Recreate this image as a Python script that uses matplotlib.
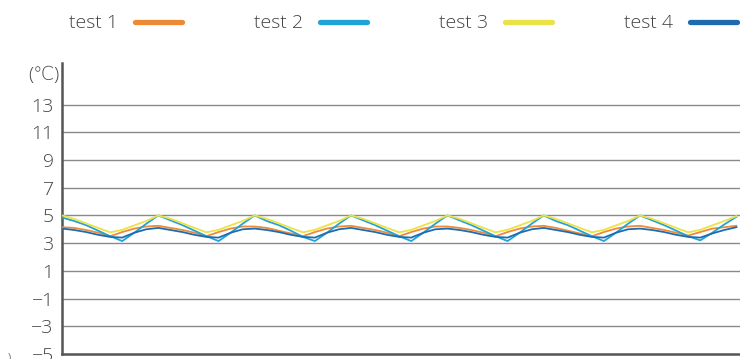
import matplotlib
matplotlib.use('Agg')
import matplotlib.pyplot as plt
from matplotlib.lines import Line2D
import numpy as np

plt.rcParams['font.family'] = ['Open Sans', 'DejaVu Sans']

# temperature readings, one sample per step
test1 = [4.15, 4.1, 3.95, 3.75, 3.5, 3.8, 4.05, 4.2,
         4.25, 4.1, 3.95, 3.75, 3.5, 3.8, 4.05, 4.2,
         4.2, 4.1, 3.9, 3.7, 3.5, 3.8, 4.05, 4.2,
         4.25, 4.1, 3.95, 3.75, 3.5, 3.8, 4.05, 4.2,
         4.2, 4.1, 3.95, 3.75, 3.5, 3.8, 4.05, 4.2,
         4.25, 4.1, 3.9, 3.7, 3.5, 3.8, 4.05, 4.2,
         4.25, 4.1, 3.95, 3.75, 3.55, 3.8, 4.05, 4.15, 4.25]
test2 = [4.85, 4.6, 4.3, 3.9, 3.5, 3.15, 3.75, 4.4,
         5.0, 4.65, 4.3, 3.9, 3.5, 3.15, 3.75, 4.4,
         5.0, 4.6, 4.3, 3.9, 3.45, 3.15, 3.75, 4.4,
         5.0, 4.65, 4.3, 3.9, 3.5, 3.15, 3.75, 4.4,
         5.0, 4.65, 4.3, 3.9, 3.5, 3.15, 3.75, 4.4,
         5.0, 4.6, 4.3, 3.9, 3.5, 3.15, 3.75, 4.4,
         5.0, 4.65, 4.3, 3.9, 3.5, 3.2, 3.75, 4.35, 4.9]
test3 = [5.0, 4.75, 4.43, 4.1, 3.78, 3.96, 4.28, 4.6,
         5.0, 4.76, 4.43, 4.1, 3.78, 3.96, 4.28, 4.6,
         5.0, 4.76, 4.43, 4.1, 3.78, 3.96, 4.28, 4.6,
         5.0, 4.76, 4.43, 4.1, 3.78, 3.96, 4.28, 4.6,
         5.0, 4.76, 4.43, 4.1, 3.78, 3.96, 4.28, 4.6,
         5.0, 4.76, 4.43, 4.1, 3.78, 3.96, 4.28, 4.6,
         5.0, 4.76, 4.43, 4.1, 3.78, 3.96, 4.28, 4.6, 4.95]
test4 = [4.05, 3.95, 3.8, 3.6, 3.45, 3.4, 3.75, 4.0,
         4.1, 3.95, 3.8, 3.6, 3.45, 3.4, 3.75, 4.0,
         4.05, 3.95, 3.8, 3.6, 3.45, 3.4, 3.75, 4.0,
         4.1, 3.95, 3.8, 3.6, 3.45, 3.4, 3.75, 4.0,
         4.05, 3.95, 3.8, 3.6, 3.45, 3.4, 3.75, 4.0,
         4.1, 3.95, 3.8, 3.6, 3.45, 3.4, 3.75, 4.0,
         4.05, 3.95, 3.8, 3.6, 3.45, 3.4, 3.7, 3.95, 4.15]
names = ['test 1', 'test 2', 'test 3', 'test 4']
colors = ['#ee8a35', '#22a3d8', '#ebe246', '#1d6cb0']
yticks = [-5, -3, -1, 1, 3, 5, 7, 9, 11, 13]

W, H = 740, 359
fig = plt.figure(figsize=(W / 100, H / 100), dpi=100)
ax = fig.add_axes([62 / W, 5 / H, (W - 62) / W, 291 / H])

x = np.arange(len(test1))
for series, c in zip([test1, test2, test3, test4], colors):
    ax.plot(x, series, color=c, lw=1.3, solid_joinstyle='round', zorder=3)

ax.set_xlim(0, 56.3)
ax.set_ylim(-5, 16)
ax.set_yticks(yticks)
ax.set_yticklabels([str(t).replace('-', '\u2212') for t in yticks],
                   fontsize=14, color='#444444', fontweight='light')
ax.set_xticks([])
ax.tick_params(axis='y', length=0, pad=6)
for t in yticks[1:]:
    ax.axhline(t, color='#8a8a8a', lw=1.0, zorder=1)
for s in ['top', 'right']:
    ax.spines[s].set_visible(False)
for s in ['left', 'bottom']:
    ax.spines[s].set_color('#555555')
    ax.spines[s].set_linewidth(1.8)

ax.text(-0.004, 15.1, '(\u2103)', transform=ax.get_yaxis_transform(),
        ha='right', va='center', fontsize=13.5, color='#444444', fontweight='light')

# legend row across the top
for i, (n, c) in enumerate(zip(names, colors)):
    x0 = 118 + 185 * i
    fig.text(x0 / W, 1 - 23 / H, n, ha='right', va='center', fontsize=14,
             color='#444444', fontweight='light')
    fig.add_artist(Line2D([(x0 + 17) / W, (x0 + 64) / W], [1 - 22 / H, 1 - 22 / H],
                          color=c, lw=3.8, solid_capstyle='round'))

fig.text(8 / W, 1 / H, ')', ha='left', va='center', fontsize=8, color='#777777')

fig.savefig('out.png', dpi=100)
